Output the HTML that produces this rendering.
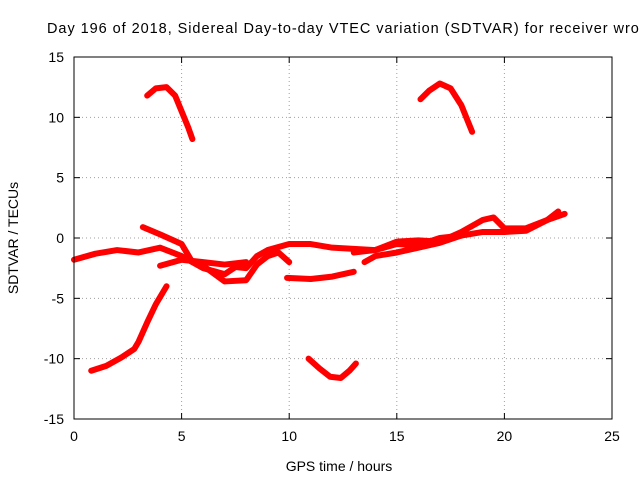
<!DOCTYPE html>
<html><head><meta charset="utf-8"><style>
body{margin:0;background:#fff;}
svg{display:block;font-family:"Liberation Sans",sans-serif;}
</style></head><body>
<svg id="chart" width="640" height="480">
<text x="47" y="33" font-size="14.5" textLength="600" lengthAdjust="spacing">Day 196 of 2018, Sidereal Day-to-day VTEC variation (SDTVAR) for receiver wroc</text>
<g id="grid"></g><g id="ticks"></g><g id="series"></g>
<rect x="74" y="57" width="538" height="362" fill="none" stroke="#000" stroke-width="1"/>
<text x="339" y="471" font-size="14" text-anchor="middle">GPS time / hours</text>
<text x="0" y="0" font-size="14" text-anchor="middle" transform="translate(18,238) rotate(-90)">SDTVAR / TECUs</text>
</svg>
<script>
const xTicks=[0,5,10,15,20,25];
const yTicks=[-15,-10,-5,0,5,10,15];
const trackA=[[3.4,11.8],[3.8,12.4],[4.3,12.5],[4.7,11.8],[5.0,10.5],[5.3,9.2],[5.5,8.2]];
const trackB=[[16.1,11.5],[16.5,12.2],[17.0,12.8],[17.5,12.4],[18.0,11],[18.5,8.8]];
const trackC=[[0.8,-11.0],[1.5,-10.6],[2.2,-9.9],[2.8,-9.2],[3.0,-8.6],[3.4,-7],[3.8,-5.5],[4.3,-4.0]];
const trackD=[[10.9,-10.0],[11.4,-10.8],[11.9,-11.5],[12.4,-11.6],[12.8,-11.0],[13.1,-10.4]];
const trackE=[[0,-1.8],[1,-1.3],[2,-1.0],[3,-1.2],[4,-0.8],[5,-1.5],[6,-2.5],[7,-3.0],[7.5,-2.4],[8,-2.5],[8.5,-1.5],[9,-1.0],[10,-0.5],[11,-0.5],[12,-0.8],[13,-0.9],[14,-1.0],[15,-0.3],[16,-0.2],[17,-0.3],[18,0.5],[19,1.5],[19.5,1.7],[20,0.8],[21,0.8],[22,1.5],[22.8,2.0]];
const trackF=[[3.2,0.9],[4,0.3],[5,-0.5],[5.5,-2],[6,-2.3],[7,-3.6],[8,-3.5],[8.5,-2.2],[9,-1.5],[9.5,-1.2],[10,-2]];
const trackG=[[4,-2.3],[5,-1.8],[6,-2.0],[7,-2.2],[8,-2.0]];
const trackH=[[9.9,-3.3],[11,-3.4],[12,-3.2],[13,-2.8]];
const trackI=[[13.5,-2],[14,-1.5],[15,-1.2],[16,-0.8],[17,-0.4],[18,0.2],[19,0.5],[20,0.5],[21,0.6],[22,1.5],[22.5,2.2]];
const trackJ=[[13,-1.2],[14,-1.0],[15,-0.5],[16,-0.6],[17,0],[18,0.2]];
const tracks=[trackA,trackB,trackC,trackD,trackE,trackF,trackG,trackH,trackI,trackJ];
const NS="http://www.w3.org/2000/svg";
const X0=74,X1=612,Y0=419,Y1=57;
const sx=v=>X0+(v-0)/25*(X1-X0);
const sy=v=>Y0-(v+15)/30*(Y0-Y1);
const grid=document.getElementById('grid'),ticks=document.getElementById('ticks'),series=document.getElementById('series');
function mk(tag,attrs,parent){const e=document.createElementNS(NS,tag);for(const k in attrs)e.setAttribute(k,attrs[k]);parent.appendChild(e);return e;}
xTicks.forEach(t=>{const x=sx(t);
 if(t>0&&t<25){const g=mk('line',{x1:x,x2:x,y1:Y1,y2:Y0,stroke:'#a0a0a0','stroke-dasharray':'1,3'},grid);
 
 }
 mk('line',{x1:x,x2:x,y1:Y0,y2:Y0-6,stroke:'#000'},ticks);mk('line',{x1:x,x2:x,y1:Y1,y2:Y1+6,stroke:'#000'},ticks);
 const l=mk('text',{x:x,y:Y0+22,'font-size':14,'text-anchor':'middle'},ticks);l.textContent=t;
 
 });
yTicks.forEach(t=>{const y=sy(t);
 if(t>-15&&t<15){const g=mk('line',{x1:X0,x2:X1,y1:y,y2:y,stroke:'#a0a0a0','stroke-dasharray':'1,3'},grid);
 
 }
 mk('line',{x1:X0,x2:X0+6,y1:y,y2:y,stroke:'#000'},ticks);mk('line',{x1:X1,x2:X1-6,y1:y,y2:y,stroke:'#000'},ticks);
 const l=mk('text',{x:X0-10,y:y+5,'font-size':14,'text-anchor':'end'},ticks);l.textContent=t;
 
 });
tracks.forEach(tr=>{
 const p=mk('polyline',{points:tr.map(d=>sx(d[0])+','+sy(d[1])).join(' '),fill:'none',stroke:'#ff0000','stroke-width':6,'stroke-linejoin':'round','stroke-linecap':'round'},series);
 
 
});
</script>
</body></html>
